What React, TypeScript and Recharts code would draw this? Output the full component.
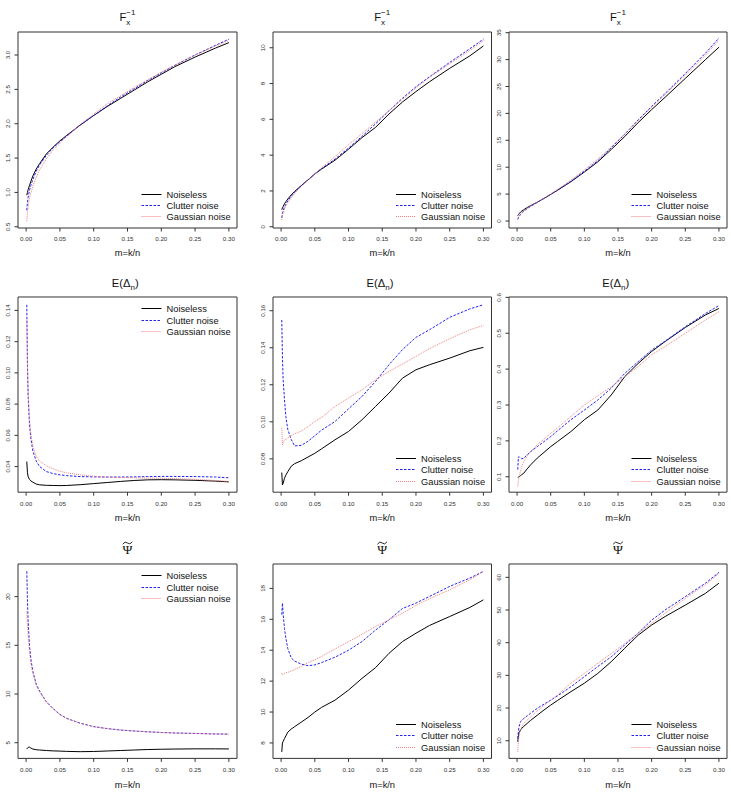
import { LineChart, Line, XAxis, YAxis, ReferenceArea } from 'recharts';

// m = k/n grid shared by every panel
const M = [0.001, 0.002, 0.003, 0.005, 0.007, 0.01, 0.015, 0.02, 0.03, 0.04, 0.05, 0.06, 0.08, 0.1, 0.12, 0.14, 0.16, 0.18, 0.2, 0.22, 0.25, 0.28, 0.3];
const X_TICKS = [0, 0.05, 0.1, 0.15, 0.2, 0.25, 0.3];

// F_x^{-1}
const fInv1Noiseless = [0.96, 1.0, 1.04, 1.1, 1.16, 1.24, 1.34, 1.42, 1.56, 1.66, 1.75, 1.83, 1.98, 2.12, 2.25, 2.37, 2.49, 2.61, 2.72, 2.83, 2.97, 3.1, 3.18];
const fInv1Clutter = [0.74, 0.85, 0.93, 1.03, 1.1, 1.19, 1.31, 1.4, 1.54, 1.65, 1.74, 1.82, 1.98, 2.12, 2.26, 2.39, 2.51, 2.63, 2.74, 2.85, 3.0, 3.14, 3.23];
const fInv1Gaussian = [0.58, 0.7, 0.79, 0.92, 0.99, 1.09, 1.22, 1.33, 1.49, 1.62, 1.72, 1.81, 1.99, 2.14, 2.29, 2.41, 2.53, 2.64, 2.75, 2.85, 3.0, 3.13, 3.21];

const fInv2Noiseless = [0.95, 1.05, 1.12, 1.28, 1.4, 1.55, 1.78, 1.97, 2.3, 2.62, 2.95, 3.22, 3.72, 4.33, 4.98, 5.55, 6.3, 6.97, 7.55, 8.1, 8.85, 9.55, 10.1];
const fInv2Clutter = [0.5, 0.75, 0.88, 1.1, 1.25, 1.45, 1.7, 1.92, 2.3, 2.62, 2.95, 3.25, 3.78, 4.4, 5.05, 5.75, 6.48, 7.18, 7.82, 8.38, 9.18, 9.95, 10.48];
const fInv2Gaussian = [0.38, 0.6, 0.75, 0.98, 1.15, 1.35, 1.62, 1.85, 2.25, 2.6, 2.95, 3.3, 3.92, 4.58, 5.2, 5.85, 6.48, 7.12, 7.75, 8.35, 9.1, 9.85, 10.4];

const fInv3Noiseless = [1.0, 1.2, 1.35, 1.65, 1.85, 2.1, 2.5, 2.85, 3.5, 4.2, 4.95, 5.7, 7.3, 9.1, 11.0, 13.3, 15.7, 18.3, 20.7, 23.0, 26.5, 30.0, 32.3];
const fInv3Clutter = [0.3, 0.6, 0.8, 1.2, 1.5, 1.85, 2.3, 2.7, 3.45, 4.2, 4.95, 5.75, 7.4, 9.25, 11.2, 13.6, 16.1, 18.8, 21.3, 23.7, 27.4, 31.2, 34.0];
const fInv3Gaussian = [0.5, 0.75, 0.95, 1.3, 1.55, 1.9, 2.35, 2.75, 3.5, 4.25, 5.05, 5.85, 7.6, 9.5, 11.5, 13.8, 16.2, 18.7, 21.1, 23.5, 27.1, 30.8, 33.6];

// E(Delta_n)
const delta1Noiseless = [0.0432, 0.036, 0.0335, 0.0318, 0.0308, 0.03, 0.0288, 0.0283, 0.028, 0.0279, 0.0278, 0.0279, 0.0284, 0.0291, 0.0298, 0.0305, 0.0311, 0.0315, 0.0316, 0.0315, 0.0312, 0.0307, 0.0302];
const delta1Clutter = [0.1436, 0.105, 0.085, 0.067, 0.058, 0.05, 0.0435, 0.04, 0.0368, 0.0355, 0.0347, 0.0342, 0.0336, 0.0334, 0.0333, 0.0333, 0.0334, 0.0336, 0.0337, 0.0337, 0.0336, 0.0333, 0.0328];
const delta1Gaussian = [0.135, 0.105, 0.088, 0.07, 0.061, 0.053, 0.0465, 0.0435, 0.0405, 0.0385, 0.037, 0.036, 0.0347, 0.0338, 0.0333, 0.033, 0.0328, 0.0326, 0.0325, 0.0323, 0.0318, 0.0311, 0.0304];

const delta2Noiseless = [0.0726, 0.0659, 0.0668, 0.0695, 0.0712, 0.0731, 0.076, 0.0774, 0.079, 0.081, 0.083, 0.0854, 0.0903, 0.0948, 0.1011, 0.1083, 0.1155, 0.1236, 0.1281, 0.1308, 0.1344, 0.1384, 0.1402];
const delta2Clutter = [0.155, 0.135, 0.123, 0.112, 0.103, 0.0957, 0.0905, 0.087, 0.0873, 0.0895, 0.0925, 0.0955, 0.1002, 0.107, 0.1137, 0.1218, 0.1308, 0.139, 0.1456, 0.1497, 0.1564, 0.161, 0.1632];
const delta2Gaussian = [0.0966, 0.0876, 0.0885, 0.09, 0.0905, 0.0912, 0.0925, 0.0935, 0.095, 0.0975, 0.1002, 0.1023, 0.1083, 0.1128, 0.1173, 0.1227, 0.1272, 0.1312, 0.1353, 0.1395, 0.1449, 0.1497, 0.1521];

const delta3Noiseless = [0.098, 0.099, 0.1, 0.103, 0.106, 0.11, 0.122, 0.133, 0.152, 0.168, 0.184, 0.198, 0.226, 0.259, 0.286, 0.328, 0.379, 0.416, 0.449, 0.477, 0.516, 0.551, 0.569];
const delta3Clutter = [0.12, 0.155, 0.156, 0.152, 0.15, 0.152, 0.161, 0.17, 0.184, 0.198, 0.212, 0.228, 0.259, 0.286, 0.314, 0.347, 0.388, 0.421, 0.453, 0.478, 0.518, 0.555, 0.577];
const delta3Gaussian = [0.073, 0.09, 0.1, 0.115, 0.128, 0.143, 0.158, 0.17, 0.189, 0.205, 0.221, 0.236, 0.268, 0.3, 0.326, 0.351, 0.379, 0.407, 0.44, 0.463, 0.5, 0.537, 0.56];

// Psi tilde
const psi1Noiseless = [4.35, 4.45, 4.52, 4.55, 4.45, 4.35, 4.28, 4.25, 4.2, 4.16, 4.14, 4.11, 4.08, 4.1, 4.15, 4.2, 4.25, 4.3, 4.33, 4.35, 4.37, 4.37, 4.36];
const psi1Clutter = [22.6, 19.5, 17.5, 15.0, 13.6, 12.3, 11.0, 10.3, 9.2, 8.5, 7.9, 7.5, 7.0, 6.65, 6.45, 6.3, 6.2, 6.12, 6.05, 6.0, 5.95, 5.9, 5.88];
const psi1Gaussian = [18.5, 17.0, 16.0, 14.3, 13.2, 12.1, 10.9, 10.2, 9.15, 8.45, 7.9, 7.5, 7.0, 6.65, 6.45, 6.3, 6.2, 6.12, 6.05, 6.0, 5.95, 5.9, 5.9];

const psi2Noiseless = [7.42, 8.0, 8.1, 8.28, 8.45, 8.7, 8.9, 9.05, 9.35, 9.65, 10.0, 10.3, 10.77, 11.42, 12.18, 12.87, 13.8, 14.56, 15.1, 15.6, 16.18, 16.77, 17.26];
const psi2Clutter = [16.3, 17.05, 16.4, 15.4, 14.8, 14.1, 13.5, 13.3, 13.1, 13.0, 13.05, 13.2, 13.55, 14.0, 14.56, 15.3, 15.97, 16.7, 17.05, 17.48, 18.13, 18.67, 19.1];
const psi2Gaussian = [12.5, 12.4, 12.45, 12.5, 12.55, 12.57, 12.65, 12.75, 12.95, 13.2, 13.37, 13.6, 14.08, 14.56, 15.03, 15.53, 15.97, 16.4, 16.9, 17.33, 17.91, 18.56, 19.1];

const psi3Noiseless = [9.7, 11.5, 12.5, 13.3, 13.8, 14.4, 15.3, 16.2, 17.8, 19.4, 20.9, 22.3, 25.0, 27.6, 30.6, 34.2, 38.3, 42.3, 45.4, 48.0, 51.5, 55.1, 58.2];
const psi3Clutter = [10.7, 13.0, 14.3, 15.8, 16.3, 16.8, 17.6, 18.4, 19.9, 21.2, 22.4, 23.7, 26.5, 29.6, 32.7, 35.7, 39.3, 42.9, 46.9, 50.0, 54.1, 58.2, 61.5];
const psi3Gaussian = [6.6, 10.0, 11.5, 13.3, 14.3, 15.3, 16.3, 17.3, 19.1, 20.8, 22.4, 24.0, 27.6, 30.6, 33.7, 36.7, 39.8, 42.9, 45.9, 49.0, 53.6, 57.7, 61.2];

const FONT = "'Liberation Sans', Arial, Helvetica, sans-serif";
const INK = '#333';

const SERIES = [
  { key: 'noiseless', name: 'Noiseless', color: '#000000', dash: undefined },
  { key: 'clutter', name: 'Clutter noise', color: '#2222ee', dash: '2.5 1.5' },
  { key: 'gaussian', name: 'Gaussian noise', color: '#ef7f7f', dash: '1 1' },
];

// plot-box placement on the page
const COLS = [
  { left: 18, width: 219 },
  { left: 272.5, width: 218.5 },
  { left: 509, width: 218 },
];
const ROWS = [
  { top: 32, height: 196, tickGap: 5, xTitle: 24.3 },
  { top: 297.3, height: 195.2, tickGap: 5.6, xTitle: 25 },
  { top: 563.8, height: 194.4, tickGap: 6, xTitle: 26.7 },
];
const X_DOMAIN: [number, number] = [-0.012, 0.312];

type Panel = {
  row: number;
  col: number;
  values: number[][];
  yDomain: [number, number];
  yTicks: number[];
  digits: number;
  legend: 'top' | 'bottom';
};

const PANELS: Panel[] = [
  { row: 0, col: 0, values: [fInv1Noiseless, fInv1Clutter, fInv1Gaussian], yDomain: [0.482, 3.335], yTicks: [0.5, 1, 1.5, 2, 2.5, 3], digits: 1, legend: 'bottom' },
  { row: 0, col: 1, values: [fInv2Noiseless, fInv2Clutter, fInv2Gaussian], yDomain: [-0.07, 10.88], yTicks: [0, 2, 4, 6, 8, 10], digits: 0, legend: 'bottom' },
  { row: 0, col: 2, values: [fInv3Noiseless, fInv3Clutter, fInv3Gaussian], yDomain: [-1.3, 35.13], yTicks: [0, 5, 10, 15, 20, 25, 30, 35], digits: 0, legend: 'bottom' },
  { row: 1, col: 0, values: [delta1Noiseless, delta1Clutter, delta1Gaussian], yDomain: [0.0236, 0.1486], yTicks: [0.04, 0.06, 0.08, 0.1, 0.12, 0.14], digits: 2, legend: 'top' },
  { row: 1, col: 1, values: [delta2Noiseless, delta2Clutter, delta2Gaussian], yDomain: [0.062, 0.1674], yTicks: [0.08, 0.1, 0.12, 0.14, 0.16], digits: 2, legend: 'bottom' },
  { row: 1, col: 2, values: [delta3Noiseless, delta3Clutter, delta3Gaussian], yDomain: [0.057, 0.601], yTicks: [0.1, 0.2, 0.3, 0.4, 0.5, 0.6], digits: 1, legend: 'bottom' },
  { row: 2, col: 0, values: [psi1Noiseless, psi1Clutter, psi1Gaussian], yDomain: [3.39, 23.35], yTicks: [5, 10, 15, 20], digits: 0, legend: 'top' },
  { row: 2, col: 1, values: [psi2Noiseless, psi2Clutter, psi2Gaussian], yDomain: [7.0, 19.58], yTicks: [8, 10, 12, 14, 16, 18], digits: 0, legend: 'bottom' },
  { row: 2, col: 2, values: [psi3Noiseless, psi3Clutter, psi3Gaussian], yDomain: [4.59, 64.08], yTicks: [10, 20, 30, 40, 50, 60], digits: 0, legend: 'bottom' },
];

const PAD_L = 30;
const PAD_T = 32;
const PAD_R = 4;
const PAD_B = 36;

const YTick = (props: any) => {
  const { x, y, payload, digits } = props;
  return (
    <text
      x={x}
      y={y}
      transform={`rotate(-90 ${x} ${y})`}
      textAnchor="middle"
      fontSize={6.2}
      fill={INK}
      fontFamily={FONT}
    >
      {Number(payload.value).toFixed(digits)}
    </text>
  );
};

const Title = ({ row, cx, top }: { row: number; cx: number; top: number }) => {
  if (row === 0) {
    return (
      <text x={cx} y={top - 11.3} textAnchor="middle" fontFamily={FONT} fontSize={11.2} fill="#111">
        F
        <tspan fontSize={8} dy={4.3}>x</tspan>
        <tspan fontSize={8} dx={-4} dy={-10}>−1</tspan>
      </text>
    );
  }
  if (row === 1) {
    return (
      <text x={cx - 2.3} y={top - 9.6} textAnchor="middle" fontFamily={FONT} fontSize={11.2} fill="#111">
        E(Δ
        <tspan fontSize={8} dy={2.3}>n</tspan>
        <tspan dy={-2.3}>)</tspan>
      </text>
    );
  }
  // wide tilde accent over Psi
  const y0 = top - 21;
  return (
    <g>
      <path
        d={`M ${cx - 4.8} ${y0 + 1.2} Q ${cx - 2.4} ${y0 - 2.4} ${cx} ${y0} Q ${cx + 2.4} ${y0 + 2.4} ${cx + 4.8} ${y0 - 1.2}`}
        fill="none"
        stroke="#111"
        strokeWidth={0.9}
      />
      <text x={cx} y={top - 9.7} textAnchor="middle" fontFamily="'Liberation Serif', 'DejaVu Serif', serif" fontSize={13.5} fill="#111">
        Ψ
      </text>
    </g>
  );
};

const PanelChart = ({ p }: { p: Panel }) => {
  const c = COLS[p.col];
  const r = ROWS[p.row];
  const w = c.width + PAD_L + PAD_R;
  const h = r.height + PAD_T + PAD_B;
  const data = M.map((m, i) => ({
    m,
    noiseless: p.values[0][i],
    clutter: p.values[1][i],
    gaussian: p.values[2][i],
  }));
  const cx = PAD_L + c.width / 2;
  const right = PAD_L + c.width;
  const bottom = PAD_T + r.height;
  const rowsY = (p.legend === 'top'
    ? [PAD_T + 11.8, PAD_T + 23.3, PAD_T + 34.7]
    : [bottom - 34, bottom - 22.6, bottom - 11.2]
  ).map((v) => Math.round(v - 0.5) + 0.5);

  return (
    <div style={{ position: 'absolute', left: c.left - PAD_L, top: r.top - PAD_T, width: w, height: h }}>
      <LineChart width={w} height={h} data={data} margin={{ top: PAD_T, right: PAD_R, bottom: 0, left: 0 }}>
        <XAxis
          dataKey="m"
          type="number"
          domain={X_DOMAIN}
          allowDataOverflow
          ticks={X_TICKS}
          interval={0}
          height={PAD_B}
          axisLine={false}
          tickSize={3.5}
          tickMargin={r.tickGap}
          tickLine={{ stroke: INK }}
          tick={{ fontSize: 6.2, fill: INK, fontFamily: FONT }}
          tickFormatter={(v: number) => v.toFixed(2)}
        />
        <YAxis
          type="number"
          domain={p.yDomain}
          allowDataOverflow
          ticks={p.yTicks}
          interval={0}
          width={PAD_L}
          axisLine={false}
          tickSize={3.5}
          tickMargin={4.3}
          tickLine={{ stroke: INK }}
          tick={<YTick digits={p.digits} />}
        />
        <ReferenceArea
          x1={X_DOMAIN[0]}
          x2={X_DOMAIN[1]}
          y1={p.yDomain[0]}
          y2={p.yDomain[1]}
          fill="none"
          stroke={INK}
          strokeWidth={1}
          fillOpacity={0}
        />
        {SERIES.map((s) => (
          <Line
            key={s.key}
            type="linear"
            dataKey={s.key}
            stroke={s.color}
            strokeWidth={1}
            strokeDasharray={s.dash}
            dot={false}
            activeDot={false}
            isAnimationActive={false}
          />
        ))}
      </LineChart>
      <svg
        width={w}
        height={h}
        style={{ position: 'absolute', left: 0, top: 0, pointerEvents: 'none', overflow: 'visible' }}
      >
        <Title row={p.row} cx={cx} top={PAD_T} />
        <text x={cx} y={bottom + r.xTitle + 3.3} textAnchor="middle" fontFamily={FONT} fontSize={9.3} fill="#111">
          m=k/n
        </text>
        {SERIES.map((s, i) => (
          <g key={s.key}>
            <line
              x1={right - 95.5}
              x2={right - 75.5}
              y1={rowsY[i]}
              y2={rowsY[i]}
              stroke={s.color}
              strokeWidth={1}
              strokeDasharray={s.dash}
            />
            <text x={right - 70.5} y={rowsY[i] + 3.3} fontFamily={FONT} fontSize={9.3} fill="#111">
              {s.name}
            </text>
          </g>
        ))}
      </svg>
    </div>
  );
}

export default function App() {
  return (
    <div style={{ position: 'absolute', left: 0, top: 0, width: 731, height: 793, background: '#fff' }}>
      {PANELS.map((p) => (
        <PanelChart key={`${p.row}-${p.col}`} p={p} />
      ))}
    </div>
  );
}
